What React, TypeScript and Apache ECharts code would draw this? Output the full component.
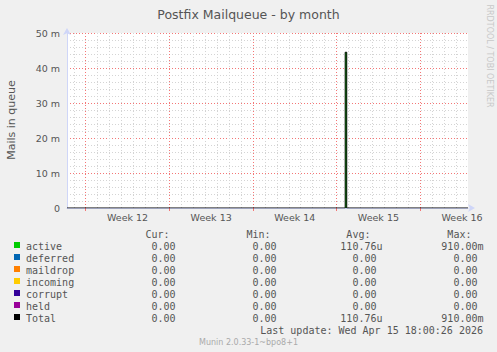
import React, { useEffect, useRef } from "react";
import * as echarts from "echarts";

// ---- data ----
// x values are days relative to Monday 16 Mar 2026 00:00 (start of week 12)
const xMinDay = -1.565;
const xMaxDay = 32;
const sampleDays = [-1.565, 21.72, 21.85, 32];
const activeValues = [0, 0, 0.0445, 0];
const deferredValues = [0, 0, 0, 0];
const maildropValues = [0, 0, 0, 0];
const incomingValues = [0, 0, 0, 0];
const corruptValues = [0, 0, 0, 0];
const heldValues = [0, 0, 0, 0];
const totalValues = [0, 0, 0.0445, 0];

const weekCenters = [3.5, 10.5, 17.5, 24.5, 31.5];
const weekLabels = ["Week 12", "Week 13", "Week 14", "Week 15", "Week 16"];
const mondayDays = [0, 7, 14, 21, 28];
const dayLines = [-1, 1, 2, 3, 4, 5, 6, 8, 9, 10, 11, 12, 13, 15, 16, 17, 18, 19, 20, 22, 23, 24, 25, 26, 27, 29, 30, 31];

const yTickLabels = ["0", "10 m", "20 m", "30 m", "40 m", "50 m"];

const legendNames = ["active", "deferred", "maildrop", "incoming", "corrupt", "held", "Total"];
const legendColors = ["#00cc00", "#0066b3", "#ff8000", "#ffcc00", "#330099", "#990099", "#000000"];
const curValues = ["0.00", "0.00", "0.00", "0.00", "0.00", "0.00", "0.00"];
const minValues = ["0.00", "0.00", "0.00", "0.00", "0.00", "0.00", "0.00"];
const avgValues = ["110.76u", "0.00", "0.00", "0.00", "0.00", "0.00", "110.76u"];
const maxValues = ["910.00m", "0.00", "0.00", "0.00", "0.00", "0.00", "910.00m"];
const columnHeaders = ["Cur:", "Min:", "Avg:", "Max:"];

const titleText = "Postfix Mailqueue - by month";
const yAxisName = "Mails in queue";
const lastUpdate = "Last update: Wed Apr 15 18:00:26 2026";
const footerText = "Munin 2.0.33-1~bpo8+1";
const sideText = "RRDTOOL / TOBI OETIKER";

const SANS = "DejaVu Sans";
const MONO = "DejaVu Sans Mono";
const TEXT = "#555555";
const AXIS = "#cfd6f8";
const MINOR = "#d4d4d4";
const MAJOR = "#f47676";
const MINOR_V = "#d4d4d4";
const MAJOR_V = "#f47676";

function txt(text: string, x: number, y: number, font: string, size: number, fill: string, align: string, extra: any = {}) {
  return {
    type: "text",
    x,
    y,
    silent: true,
    ...extra,
    style: {
      text,
      fontFamily: font,
      fontSize: size,
      fill,
      align,
      textAlign: align,
      verticalAlign: "middle",
      textVerticalAlign: "middle",
    },
  };
}

export default function App() {
  const ref = useRef<HTMLDivElement>(null);

  useEffect(() => {
    document.body.style.margin = "0";
    const chart = echarts.init(ref.current!, null, { renderer: "svg" });

    const pts = (vals: number[]) => sampleDays.map((d, i) => [d, vals[i]]);

    // zero-height stacked components: drawn as invisible lines (nothing to fill)
    const zeroSeries = (name: string, vals: number[], color: string) => ({
      name,
      type: "line",
      step: "start",
      data: pts(vals),
      showSymbol: false,
      symbol: "none",
      lineStyle: { width: 1, color, opacity: 0 },
      itemStyle: { color },
      z: 2,
      silent: true,
    });

    const gridLine = (d: number, color: string) => ({
      xAxis: d,
      lineStyle: { color, type: [1, 2], width: 1, opacity: 1 },
    });

    const charW = 6.02;
    const colRights = [181.6, 282.6, 382.5, 483.5];
    const colValues = [curValues, minValues, avgValues, maxValues];
    const rowY0 = 246;
    const rowH = 12;

    const graphics: any[] = [];
    graphics.push(txt(titleText, 248.5, 14.3, SANS, 12.5, TEXT, "center"));
    graphics.push(txt(yAxisName, 11, 120, SANS, 11, TEXT, "center", { rotation: Math.PI / 2 }));
    graphics.push(txt(sideText, 489, 56, SANS, 8, "#c8c8c8", "center", { rotation: -Math.PI / 2 }));

    columnHeaders.forEach((h, c) => {
      graphics.push(txt(h, colRights[c] - 2 * charW, 234, MONO, 10, TEXT, "right"));
    });
    legendNames.forEach((n, r) => {
      const y = rowY0 + r * rowH;
      graphics.push({
        type: "rect",
        silent: true,
        shape: { x: 14, y: y - 4, width: 6, height: 6 },
        style: { fill: legendColors[r] },
      });
      graphics.push(txt(n, 26, y, MONO, 10, TEXT, "left"));
      colValues.forEach((vals, c) => {
        const s = vals[r];
        const hasSuffix = /[a-zA-Z]$/.test(s);
        const x = hasSuffix ? colRights[c] : colRights[c] - charW;
        graphics.push(txt(s, x, y, MONO, 10, TEXT, "right"));
      });
    });
    graphics.push(txt(lastUpdate, 483, 330, MONO, 10, TEXT, "right"));
    graphics.push(txt(footerText, 248.5, 342.5, SANS, 8, "#aaaaaa", "center"));

    const option: any = {
      animation: false,
      backgroundColor: "#f0f0f0",
      textStyle: { fontFamily: SANS },
      grid: {
        left: 67,
        top: 33,
        width: 401,
        height: 175,
        show: true,
        backgroundColor: "#ffffff",
        borderWidth: 0,
      },
      xAxis: {
        type: "value",
        min: xMinDay,
        max: xMaxDay,
        axisLine: {
          show: true,
          onZero: false,
          lineStyle: { color: AXIS, width: 1 },
          symbol: ["none", "arrow"],
          symbolSize: [6, 7],
          symbolOffset: [0, 7],
        },
        axisTick: {
          show: true,
          customValues: mondayDays,
          length: 3,
          lineStyle: { color: MAJOR_V },
        },
        axisLabel: {
          show: true,
          customValues: weekCenters,
          margin: 4,
          color: TEXT,
          fontSize: 9.5,
          fontFamily: SANS,
          formatter: (v: number) => {
            const i = weekCenters.findIndex((c) => Math.abs(c - v) < 0.01);
            return i >= 0 ? weekLabels[i] : "";
          },
        },
        splitLine: { show: false },
      },
      yAxis: {
        type: "value",
        min: 0,
        max: 0.05,
        interval: 0.01,
        axisLine: {
          show: true,
          onZero: false,
          lineStyle: { color: AXIS, width: 1 },
          symbol: ["none", "arrow"],
          symbolSize: [6, 7],
          symbolOffset: [0, 5],
        },
        axisTick: { show: false },
        axisLabel: {
          color: TEXT,
          fontSize: 9.5,
          fontFamily: SANS,
          margin: 7,
          formatter: (v: number) => yTickLabels[Math.round(v / 0.01)] ?? "",
        },
        splitLine: { show: true, lineStyle: { color: MAJOR, type: [1, 2], width: 1 } },
        minorTick: { show: false, splitNumber: 5 },
        minorSplitLine: { show: true, lineStyle: { color: MINOR, type: [1, 2], width: 1 } },
      },
      series: [
        {
          name: legendNames[0],
          type: "line",
          step: "start",
          data: pts(activeValues),
          showSymbol: false,
          symbol: "none",
          lineStyle: { width: 0, color: legendColors[0] },
          itemStyle: { color: legendColors[0] },
          areaStyle: { color: legendColors[0], opacity: 1, origin: "start" },
          z: 2,
          silent: true,
          markLine: {
            silent: true,
            symbol: ["none", "none"],
            label: { show: false },
            z: 1,
            animation: false,
            precision: 4,
            lineStyle: { type: [1, 2], width: 1 },
            emphasis: { disabled: true },
            data: [
              ...dayLines.map((d) => gridLine(d, MINOR_V)),
              ...mondayDays.map((d) => gridLine(d, MAJOR_V)),
            ],
          },
        },
        zeroSeries(legendNames[1], deferredValues, legendColors[1]),
        zeroSeries(legendNames[2], maildropValues, legendColors[2]),
        zeroSeries(legendNames[3], incomingValues, legendColors[3]),
        zeroSeries(legendNames[4], corruptValues, legendColors[4]),
        zeroSeries(legendNames[5], heldValues, legendColors[5]),
        {
          name: legendNames[6],
          type: "line",
          step: "start",
          data: pts(totalValues),
          showSymbol: false,
          symbol: "none",
          lineStyle: { width: 1, color: legendColors[6] },
          itemStyle: { color: legendColors[6] },
          z: 3,
          silent: true,
        },
      ],
      graphic: graphics,
    };

    chart.setOption(option);
    return () => chart.dispose();
  }, []);

  return <div ref={ref} style={{ width: 497, height: 352 }} />;
}
